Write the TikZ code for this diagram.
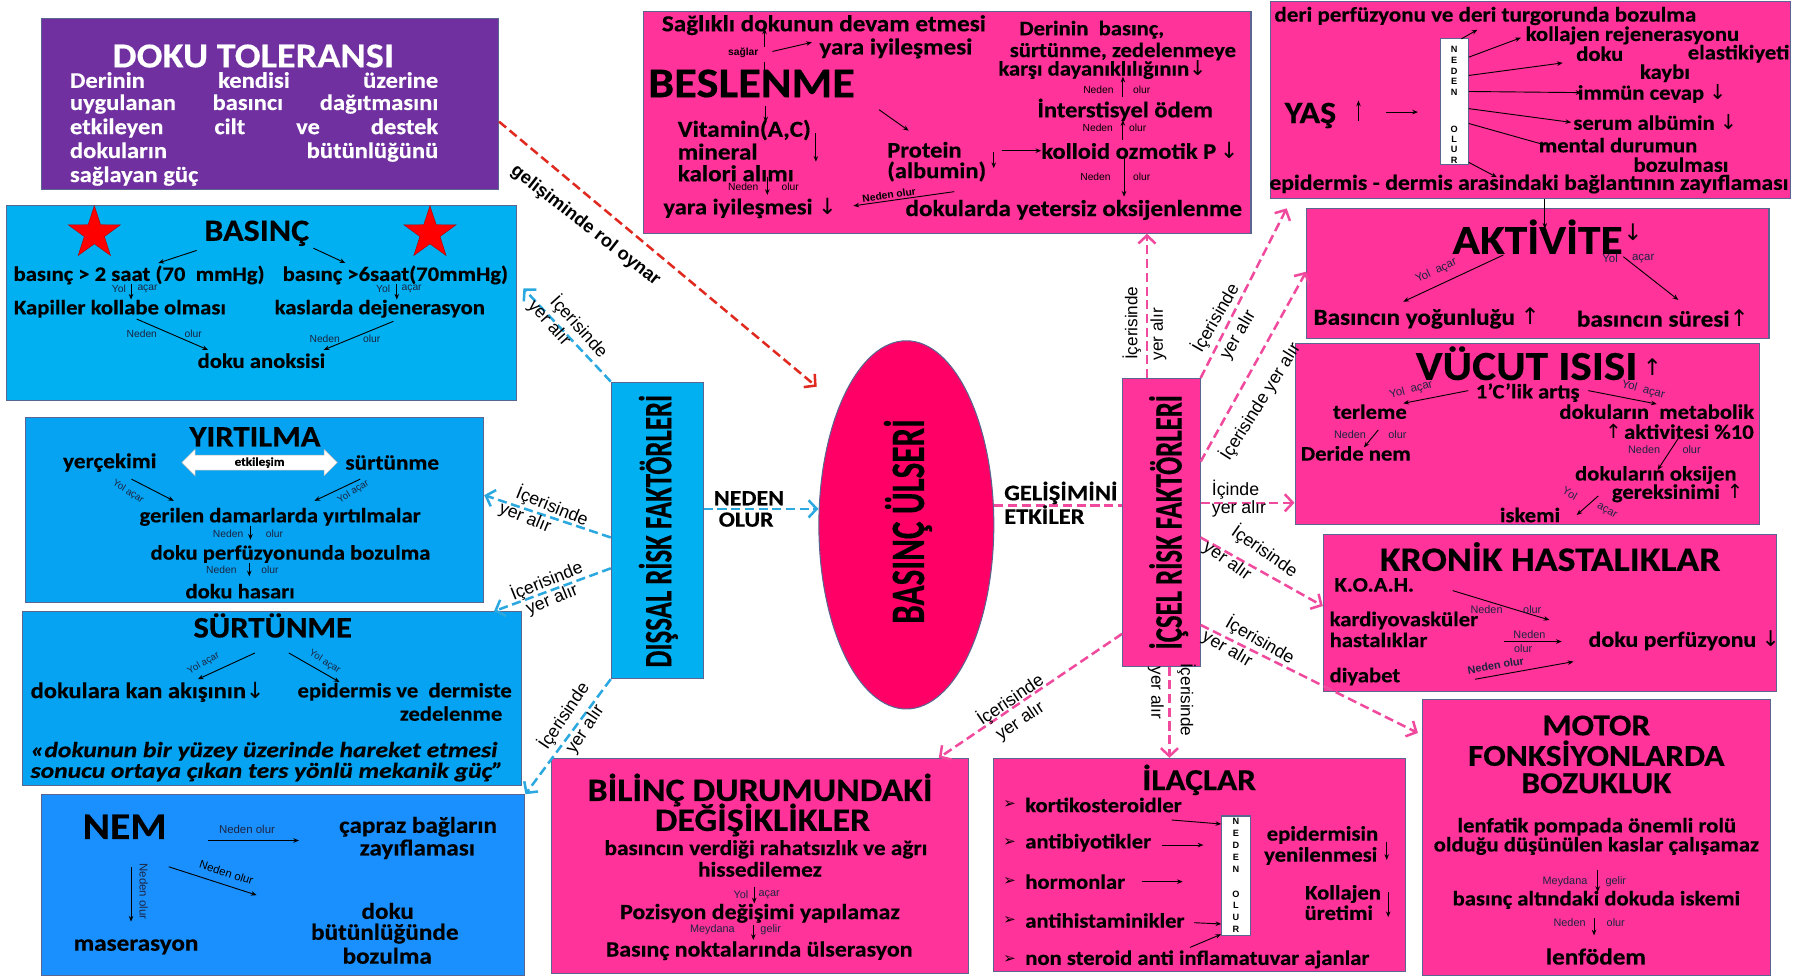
\documentclass[tikz,border=0pt]{standalone}
\usepackage{fontspec}
\usepackage{graphicx}
\setmainfont{Carlito}[FakeStretch=1.1, BoldFeatures={FakeBold=0.35}, BoldItalicFeatures={FakeBold=0.35}]
\newfontfamily\lab{Liberation Sans}
\newfontfamily\sym{DejaVu Sans}
\newfontfamily\cond{Carlito}[FakeStretch=0.69, BoldFeatures={FakeBold=0.3}]
\usetikzlibrary{shapes.geometric,shapes.arrows,arrows.meta,fit,calc}
\definecolor{pk}{HTML}{FF3399}
\definecolor{purp}{HTML}{7030A0}
\definecolor{cy}{HTML}{00B0F0}
\definecolor{cy2}{HTML}{05A3F2}
\definecolor{bl3}{HTML}{1A90FF}
\definecolor{ellc}{HTML}{FF0066}
\definecolor{bord}{HTML}{5A6590}
\definecolor{lbc}{HTML}{2BA8E0}
\definecolor{pkl}{HTML}{F04A9E}
\definecolor{redl}{HTML}{E02A20}
\definecolor{labc}{HTML}{1C2440}
\newcommand\arrdn{{\sym\mdseries ↓}}
\newcommand\arrup{{\sym\mdseries ↑}}
\begin{document}
\begin{tikzpicture}[x=1pt,y=-1pt,
  bx/.style={draw=bord, line width=0.9pt, inner sep=0pt},
  tx/.style={font=\bfseries\fontsize{#1}{#1}\selectfont, inner sep=0pt},
  tq/.style={font=\bfseries\itshape\fontsize{#1}{#1}\selectfont, inner sep=0pt},
  sx/.style={font=\lab\fontsize{#1}{#1}\selectfont, inner sep=0pt, text=labc},
  lx/.style={font=\lab\fontsize{#1}{#1}\selectfont, inner sep=0pt},
  vx/.style={font=\cond\bfseries\fontsize{#1}{#1}\selectfont, inner sep=0pt, rotate=90},
  nl/.style={font=\lab\bfseries\fontsize{8}{8}\selectfont, inner sep=0pt},
  sy/.style={font=\sym\fontsize{#1}{#1}\selectfont, inner sep=0pt},
  ar/.style={line width=0.8pt, -{Stealth[length=5pt,width=4pt]}},
  con/.style={line width=2.2pt, dash pattern=on 8pt off 4pt, -{Straight Barb[length=7pt,width=15pt]}},
  conb/.style={con, lbc},
  conp/.style={con, pkl},
  strs/.style={star, star points=5, star point ratio=2.6, fill=red, draw=red!70!black, minimum size=48pt, inner sep=0pt}
]
\useasboundingbox (0,0) rectangle (1568,854);
\fill[white] (0,0) rectangle (1568,854);

% ---------------- DOKU TOLERANSI
\node[bx, fill=purp, fit={(36,16)(436,166)}] (doku) {};
\node[tx=30.5, text=white] (dokuT) at (221.5,49) {DOKU TOLERANSI};
\node[tx=19.5, text=white, anchor=west] at (61,70) {\makebox[322pt][s]{Derinin kendisi üzerine}};
\node[tx=19.5, text=white, anchor=west] at (61,91) {\makebox[322pt][s]{uygulanan basıncı dağıtmasını}};
\node[tx=19.5, text=white, anchor=west] at (61,112) {\makebox[322pt][s]{etkileyen cilt ve destek}};
\node[tx=19.5, text=white, anchor=west] at (61,133) {\makebox[322pt][s]{dokuların bütünlüğünü}};
\node[tx=19.5, text=white, anchor=west] at (61,154) {sağlayan güç};

% ---------------- BASINC
\node[bx, fill=cy, fit={(6,180)(452,350)}] (basinc) {};
\node[strs] (st1) at (82.5,204) {};
\node[strs] (st2) at (376,204) {};
\node[tx=27] (basT) at (224.5,204) {BASINÇ};
\node[tx=18, anchor=west] (b1) at (11.7,240.5) {basınç > 2 saat (70~~mmHg)};
\node[tx=18, anchor=west] (b2) at (247,240.5) {basınç >6saat(70mmHg)};
\draw[ar] (172,219) -- (138.5,230);
\draw[ar] (274,217) -- (302,230);
\node[sx=9] at (104,253) {Yol}; \node[sx=9] at (129,253) {açar};
\draw[ar] (114.6,248) -- (114.6,262);
\node[sx=9] at (335,253) {Yol}; \node[sx=9] at (360,253) {açar};
\draw[ar] (347,248) -- (347,262);
\node[tx=18, anchor=west] at (12,270) {Kapiller kollabe olması};
\node[tx=18, anchor=west] at (240,270) {kaslarda dejenerasyon};
\draw[ar] (119.5,279) -- (182,306);
\node[sx=9] at (124,291.5) {Neden}; \node[sx=9] at (169,291.5) {olur};
\draw[ar] (344,281) -- (283,306);
\node[sx=9] at (284,296) {Neden}; \node[sx=9] at (325,296) {olur};
\node[tx=18] at (228.6,315.5) {doku anoksisi};

% ---------------- YIRTILMA
\node[bx, fill=cy2, fit={(22,365)(423,527)}] (yirt) {};
\node[tx=26] at (223,382) {YIRTILMA};
\node[tx=18.5] at (96,404.5) {yerçekimi};
\node[double arrow, draw=gray!60, fill=white, minimum height=136pt, double arrow head extend=5pt,
      inner sep=1.8pt, font=\bfseries\fontsize{10.5}{10.5}\selectfont] (dbl) at (227,404.5) {etkileşim};
\node[tx=18.5] at (343,404.5) {sürtünme};
\draw[ar] (115,419) -- (152,438);
\node[sx=8.5, rotate=-32] at (112,430) {Yol açar};
\draw[ar] (315,419) -- (275,438);
\node[sx=8.5, rotate=32] at (309,430) {Yol açar};
\node[tx=18] at (245,452) {gerilen damarlarda yırtılmalar};
\node[sx=9] at (199.5,466.5) {Neden}; \node[sx=9] at (240,466.5) {olur};
\draw[ar] (219,460) -- (219,472);
\node[tx=18] at (254,484.5) {doku perfüzyonunda bozulma};
\node[sx=9] at (193.6,498.5) {Neden}; \node[sx=9] at (236,498.5) {olur};
\draw[ar] (218,492.5) -- (218,504);
\node[tx=18] at (210,517) {doku hasarı};

% ---------------- SURTUNME
\node[bx, fill=cy2, fit={(20,535)(456,687)}] (surt) {};
\node[tx=26] at (238.5,547) {SÜRTÜNME};
\draw[ar] (223,571) -- (173,594);
\node[sx=8.5, rotate=30] at (178,580) {Yol açar};
\draw[ar] (252.5,571) -- (297,596.5);
\node[sx=8.5, rotate=-32] at (284,579) {Yol açar};
\node[tx=19.5, anchor=west] at (26.6,605) {dokulara kan akışının\arrdn};
\node[tx=18, anchor=west] at (260,605) {epidermis ve~~dermiste};
\node[tx=18] at (394.5,624) {zedelenme};
\node[tq=19, anchor=west] at (26.6,657) {\scalebox{1.07}[1]{«dokunun bir yüzey üzerinde hareket etmesi}};
\node[tq=19, anchor=west] at (26.6,675) {\scalebox{1.07}[1]{sonucu ortaya çıkan ters yönlü mekanik güç”}};

% ---------------- NEM
\node[bx, fill=bl3, fit={(36,695)(459,853)}] (nem) {};
\node[tx=33] at (109,723) {NEM};
\node[sx=10] at (216,725) {Neden olur};
\draw[ar] (182,735) -- (261.5,735);
\node[tx=20] at (365.6,723) {çapraz bağların};
\node[tx=20] at (365,742.7) {zayıflaması};
\draw[ar] (147.6,758) -- (224.5,782.8);
\node[sx=10, rotate=-18, text=black] at (198,763) {Neden olur};
\draw[ar] (114.6,758) -- (114.6,806);
\node[sx=10, rotate=-90] at (125.6,779.6) {Neden olur};
\node[tx=20] at (119,828) {maserasyon};
\node[tx=20] at (339,796.6) {doku};
\node[tx=20] at (336.5,816.5) {bütünlüğünde};
\node[tx=20] at (338.6,835.8) {bozulma};

% ---------------- DISSAL / ELLIPSE / ICSEL
\node[bx, fill=cy, fit={(534.6,334.2)(614.9,593.4)}] (disal) {};
\node[vx=34] at (575.7,464.5) {DIŞSAL RİSK FAKTÖRLERİ};
\node[ellipse, fill=ellc, draw=bord, line width=0.9pt, minimum width=153pt, minimum height=322pt, inner sep=0pt] (ell) at (792.6,459) {};
\node[vx=42] at (794,456) {BASINÇ ÜLSERİ};
\node[bx, fill=pk, fit={(981.7,331)(1049.5,582.5)}] (icsel) {};
\node[vx=34] at (1022,456.7) {İÇSEL RİSK FAKTÖRLERİ};

% ---------------- BESLENME
\node[bx, fill=pk, fit={(563,10)(1094,204)}] (besl) {};
\node[tx=20] at (720.5,22) {Sağlıklı dokunun devam etmesi};
\draw[ar] (668.6,41) -- (668.6,25);
\node[sx=9, text=black] at (650,46.6) {\bfseries sağlar};
\draw[ar] (675.5,45) -- (710,37);
\node[tx=20] at (783.5,42.3) {yara iyileşmesi};
\draw[line width=0.6pt] (668.6,54) -- (668.6,61);
\node[tx=37, anchor=west] at (566.6,73) {BESLENME};
\draw[ar] (669.6,93) -- (669.6,107);
\node[tx=20, anchor=west] at (592.5,113.7) {Vitamin(A,C)};
\node[tx=20, anchor=west] at (592.5,132.6) {mineral};
\node[tx=20, anchor=west] at (592.5,151.6) {kalori alımı};
\draw[ar] (713.5,116.6) -- (713.5,141.4);
\node[sx=9, text=black] at (650,163.8) {Neden}; \node[sx=9, text=black] at (691,163.8) {olur};
\draw[ar] (671,154.5) -- (671,170.5);
\node[tx=19.5, anchor=west] at (580,182) {yara iyileşmesi \arrdn};
\draw[ar] (834.5,167.6) -- (746.3,180);
\node[sx=9, text=black, rotate=8] at (777.5,170.5) {\bfseries Neden olur};
\node[tx=20] at (939,183.6) {dokularda yetersiz oksijenlenme};
\draw[ar] (768.8,96) -- (794.7,114.3);
\node[tx=19.5, anchor=west] at (775.7,131) {Protein};
\node[tx=19.5, anchor=west] at (775.7,150) {(albumin)};
\draw[ar] (869,132.6) -- (869,147);
\draw[ar] (876,131.8) -- (910.5,131.8);
\node[tx=19.5, anchor=west] at (910.5,131.8) {kolloid ozmotik P\,\arrdn};
\node[tx=18] at (954.7,26) {Derinin~~basınç,};
\node[tx=18] at (982,45) {sürtünme, zedelenmeye};
\node[tx=18] at (964,61) {karşı dayanıklılığının\arrdn};
\draw[ar] (982,84.5) -- (982,67);
\node[sx=9, text=black] at (960.6,78.7) {Neden}; \node[sx=9, text=black] at (998.5,78.7) {olur};
\node[tx=19.5] at (984,96) {İnterstisyel ödem};
\draw[ar] (982,122.4) -- (982,105);
\node[sx=9, text=black] at (960,112) {Neden}; \node[sx=9, text=black] at (995,112) {olur};
\draw[ar] (983,138.5) -- (983,172);
\node[sx=9, text=black] at (958,154.5) {Neden}; \node[sx=9, text=black] at (998.5,154.5) {olur};

% ---------------- YAS
\node[bx, fill=pk, fit={(1111,1)(1566,174)}] (yas) {};
\node[tx=18.3] at (1299,14) {deri perfüzyonu ve deri turgorunda bozulma};
\node[bx, fill=white, fit={(1259.5,34)(1284,144)}] (yasno) {};
\foreach \ch/\yy in {N/43,E/52.5,D/62,E/71.5,N/81,O/113,L/122,U/131,R/140}
  \node[nl] at (1271.7,\yy) {\ch};
\node[tx=18] at (1427.6,31) {kollajen rejenerasyonu};
\node[tx=18] at (1399,47) {doku};
\node[tx=18, anchor=east] at (1565,47) {elastikiyeti};
\node[tx=18] at (1456,64) {kaybı};
\node[tx=18] at (1444.8,82) {immün cevap~\arrdn};
\node[tx=18] at (1447.5,107) {serum albümin \arrdn};
\node[tx=18] at (1415,127) {mental durumun};
\node[tx=18] at (1470,144) {bozulması};
\node[tx=18.8] at (1337,161) {epidermis - dermis arasindaki bağlantının zayıflaması};
\node[tx=27] at (1146,101) {YAŞ};
\draw[ar] (1188,106) -- (1188,88);
\draw[ar] (1212,98) -- (1240,98);
\draw[ar] (1278,34) -- (1292,26);
\draw[ar] (yasno.east |- 0,50) -- (1330,33);
\draw[ar] (yasno.east |- 0,66) -- (1366.6,55);
\draw[ar] (yasno.east |- 0,80) -- (1383,81);
\draw[ar] (yasno.east |- 0,95) -- (1374,107);
\draw[ar] (yasno.east |- 0,108) -- (1352,127);
\draw[ar] (yasno.east |- 0,142) -- (1309,155);

% ---------------- AKTIVITE
\node[bx, fill=pk, fit={(1142.7,182)(1547,296)}] (akt) {};
\coordinate (aktin) at (1351,200);
\draw[ar] (yas.south -| aktin) -- (aktin);
\node[tx=36] at (1344.6,207) {AKTİVİTE};
\node[sy=20] at (1428,203) {↓};
\draw[ar] (1314.7,223) -- (1227.2,263.8);
\node[sx=10, rotate=25] at (1256,237) {Yol~~açar};
\node[sx=10] at (1408,226) {Yol}; \node[sx=10] at (1437,226) {açar};
\draw[ar] (1419.6,224.5) -- (1467.7,262.3);
\node[tx=20, anchor=west] at (1148.5,278.4) {Basıncın yoğunluğu \arrup};
\node[tx=20, anchor=west] at (1378.8,278.4) {basıncın süresi\arrup};

% ---------------- VUCUT ISISI
\node[bx, fill=pk, fit={(1132.5,300.3)(1539,459)}] (vucut) {};
\node[tx=36] at (1335,317.7) {VÜCUT ISISI};
\node[sy=20] at (1445,321) {↑};
\node[tx=18] at (1336,343.4) {1’C’lik artış};
\draw[ar] (1284,341.6) -- (1227.2,352.7);
\node[sx=10, rotate=15] at (1234,341) {Yol~~açar};
\draw[ar] (1389,341.6) -- (1448.8,353.3);
\node[sx=10, rotate=-15] at (1437,341) {Yol~~açar};
\node[tx=18] at (1198,360) {terleme};
\node[sx=9.5] at (1180.6,380.4) {Neden}; \node[sx=9.5] at (1222,380.4) {olur};
\draw[ar] (1205.3,376) -- (1192.8,391.2);
\node[tx=18] at (1185.7,396.5) {Deride nem};
\node[tx=18] at (1448.8,360) {dokuların~~metabolik};
\node[sy=17] at (1411,377.5) {↑};
\node[tx=18] at (1477,377.5) {aktivitesi \%10};
\node[sx=9.5] at (1437.8,393.5) {Neden}; \node[sx=9.5] at (1479.3,393.5) {olur};
\draw[ar] (1467.7,383.3) -- (1449.6,411);
\node[tx=18] at (1448,415.4) {dokuların oksijen};
\node[tx=18, anchor=west] at (1409.4,431.4) {gereksinimi};
\node[sy=17] at (1517.3,430) {↑};
\node[sx=9.5, rotate=-30] at (1373,431.4) {Yol};
\node[sx=9.5, rotate=-30] at (1405,447.5) {açar};
\draw[ar] (1397.7,433.7) -- (1378.8,450.4);
\node[tx=18] at (1338,450.4) {iskemi};

% ---------------- KRONIK
\node[bx, fill=pk, fit={(1157.3,467.8)(1553.7,604.8)}] (kronik) {};
\node[tx=30] at (1355.6,486.8) {KRONİK HASTALIKLAR};
\node[tx=18] at (1201.8,511.5) {K.O.A.H.};
\draw[ar] (1270.4,516.5) -- (1355,542.2);
\node[sx=9.5] at (1300,533.4) {Neden}; \node[sx=9.5] at (1340,533.4) {olur};
\node[tx=18, anchor=west] at (1162.6,542.7) {kardiyovasküler};
\node[tx=18, anchor=west] at (1162.6,559.6) {hastalıklar};
\node[sx=9.5] at (1337.5,555) {Neden};
\draw[ar] (1315.3,561) -- (1365.7,561);
\node[sx=9.5] at (1332,567) {olur};
\node[tx=19, anchor=west] at (1389,560.2) {doku perfüzyonu \arrdn};
\node[tx=18, anchor=west] at (1162.6,591.7) {diyabet};
\draw[ar] (1290,594) -- (1376,578.6);
\node[sx=9.5, rotate=10] at (1308,582) {\bfseries Neden olur};

% ---------------- MOTOR
\node[bx, fill=pk, fit={(1244,612)(1548,853)}] (motor) {};
\node[tx=26.5] at (1396,634.5) {MOTOR};
\node[tx=26.5] at (1396,658.7) {FONKSİYONLARDA};
\node[tx=26.5] at (1396,685) {BOZUKLUK};
\node[tx=18] at (1396.4,723) {lenfatik pompada önemli rolü};
\node[tx=18] at (1396,739.8) {olduğu düşünülen kaslar çalışamaz};
\node[sx=9.5] at (1368.6,771) {Meydana}; \node[sx=9.5] at (1413,771) {gelir};
\draw[ar] (1397.2,760.8) -- (1397.2,780);
\node[tx=18] at (1396,787) {basınç altındaki dokuda iskemi};
\node[sx=9.5] at (1372.6,806.5) {Neden}; \node[sx=9.5] at (1413,806.5) {olur};
\draw[ar] (1394,803) -- (1394,818);
\node[tx=20] at (1395.6,836.5) {lenfödem};

% ---------------- ILACLAR
\node[bx, fill=pk, fit={(868.7,663.2)(1228.7,849.7)}] (ilac) {};
\node[tx=26.5] at (1048.7,682) {İLAÇLAR};
\node[bx, fill=white, fit={(1068.4,713.6)(1093.2,817.7)}] (ilacno) {};
\foreach \ch/\yy in {N/718,E/729,D/739.6,E/750,N/760,O/782,L/792,U/802,R/813}
  \node[nl] at (1080.8,\yy) {\ch};
\foreach \yy in {704,737,771,805,839}
  \node[sy=13] at (883,\yy) {➢};
\node[tx=18, anchor=west] at (896.4,704) {kortikosteroidler};
\node[tx=18, anchor=west] at (896.4,737) {antibiyotikler};
\node[tx=18, anchor=west] at (896.4,771) {hormonlar};
\node[tx=18, anchor=west] at (896.4,805) {antihistaminikler};
\node[tx=18, anchor=west] at (896.4,839) {non steroid anti inflamatuvar ajanlar};
\draw[ar] (1024.7,717.1) -- (ilacno.west |- 0,720.6);
\draw[ar] (1016,739) -- (1052.4,739);
\draw[ar] (998.4,771) -- (1034.3,771);
\draw[ar] (1044.2,806.9) -- (ilacno.west |- 0,808);
\draw[ar] (1040.7,828.5) -- (ilacno.west |- 0,817);
\node[tx=18] at (1156.5,730.2) {epidermisin};
\node[tx=18] at (1155,748.6) {yenilenmesi};
\draw[ar] (1212.7,736) -- (1212.7,752);
\node[tx=18] at (1174.5,781.8) {Kollajen};
\node[tx=18] at (1170.8,798.2) {üretimi};
\draw[ar] (1214,780) -- (1214,802);

% ---------------- BILINC
\node[bx, fill=pk, fit={(482.4,663.2)(846.8,851.2)}] (bilinc) {};
\node[tx=28.5] at (664.6,690.9) {BİLİNÇ DURUMUNDAKİ};
\node[tx=28.5] at (666.8,717.1) {DEĞİŞİKLİKLER};
\node[tx=18.5] at (669.8,742.8) {basıncın verdiği rahatsızlık ve ağrı};
\node[tx=18.5] at (664.6,760.2) {hissedilemez};
\node[sx=9.5] at (648,782.7) {Yol}; \node[sx=9.5] at (672.7,782.7) {açar};
\draw[ar] (659.6,775.4) -- (659.6,790);
\node[tx=19] at (664.6,798.7) {Pozisyon değişimi yapılamaz};
\node[sx=9.5] at (623,813.3) {Meydana}; \node[sx=9.5] at (674,813.3) {gelir};
\draw[ar] (658.8,808.9) -- (658.8,822);
\node[tx=19] at (663.9,831.4) {Basınç noktalarında ülserasyon};

% ---------------- CONNECTORS
\coordinate (e1) at (457.7,252.2);
\draw[conb] (disal.north west) -- (e1);
\node[lx=15.5, rotate=-48] at (506.5,285.7) {İçerisinde};
\node[lx=15.5, rotate=-48] at (480,282.8) {yer alır};
\draw[conb] (disal.west |- 0,470) -- (yirt.east |- 0,433);
\node[lx=15.5, rotate=-22] at (483,443) {İçerisinde};
\node[lx=15.5, rotate=-22] at (459,453) {yer alır};
\draw[conb] (disal.west |- 0,497) -- (surt.north -| 432,0);
\node[lx=15.5, rotate=22] at (478,508) {İçerisinde};
\node[lx=15.5, rotate=22] at (483,525) {yer alır};
\draw[conb] (disal.south west) -- (nem.north east);
\node[lx=15.5, rotate=56] at (493,626) {İçerisinde};
\node[lx=15.5, rotate=56] at (512,638) {yer alır};
\draw[conb] (disal.east |- 0,445) -- (ell.west |- 0,445);
\node[tx=19] at (655,435.7) {NEDEN};
\node[tx=19] at (652.5,454.4) {OLUR};

\coordinate (e2) at (714.2,338.2);
\draw[con, redl] (doku.east |- 0,106.4) -- (e2);
\node[font=\lab\bfseries\fontsize{16}{16}\selectfont, inner sep=0pt, rotate=-38] at (512,197.5) {gelişiminde rol oynar};

\draw[pkl, line width=2.2pt, dash pattern=on 8pt off 4pt] (ell.east |- 0,442) -- (icsel.west |- 0,442);
\node[tx=19.5, anchor=west] at (878,431) {GELİŞİMİNİ};
\node[tx=19.5, anchor=west] at (878,450) {ETKİLER};

\draw[conp] (icsel.north -| 1003,0) -- (besl.south -| 1003,0);
\node[lx=15, rotate=90] at (989.7,282.6) {İçerisinde};
\node[lx=15, rotate=90] at (1013,292) {yer alır};
\coordinate (e3) at (1125.2,182.2);
\draw[conp] (icsel.north east) -- (e3);
\node[lx=15.5, rotate=60] at (1063,278) {İçerisinde};
\node[lx=15.5, rotate=60] at (1083,293) {yer alır};
\draw[conp] (icsel.east |- 0,403.7) -- (akt.west |- 0,237.6);
\node[lx=15.5, rotate=58] at (1102,351) {İçerisinde yer alır};
\draw[conp] (icsel.east |- 0,439.7) -- (vucut.west |- 0,439.7);
\node[lx=15.5] at (1080.5,428.5) {İçinde};
\node[lx=15.5] at (1083.5,445) {yer alır};
\draw[conp] (icsel.east |- 0,470) -- (kronik.west |- 0,530);
\node[lx=15.5, rotate=-35] at (1106,482) {İçerisinde};
\node[lx=15.5, rotate=-35] at (1073,491) {yer alır};
\coordinate (e4) at (1240,641);
\draw[conp] (icsel.east |- 0,546.5) -- (e4);
\node[lx=15.5, rotate=-30] at (1102,560) {İçerisinde};
\node[lx=15.5, rotate=-30] at (1073,568) {yer alır};
\draw[conp] (icsel.south -| 1022.7,0) -- (ilac.north -| 1022.7,0);
\node[lx=15, rotate=-90] at (1010.7,606) {yer alır};
\node[lx=15, rotate=-90] at (1037.5,612) {İçerisinde};
\draw[conp] (icsel.west |- 0,554.3) -- (bilinc.north -| 821,0);
\node[lx=15.5, rotate=34] at (883.5,612) {İçerisinde};
\node[lx=15.5, rotate=34] at (892.4,631) {yer alır};
\end{tikzpicture}
\end{document}
